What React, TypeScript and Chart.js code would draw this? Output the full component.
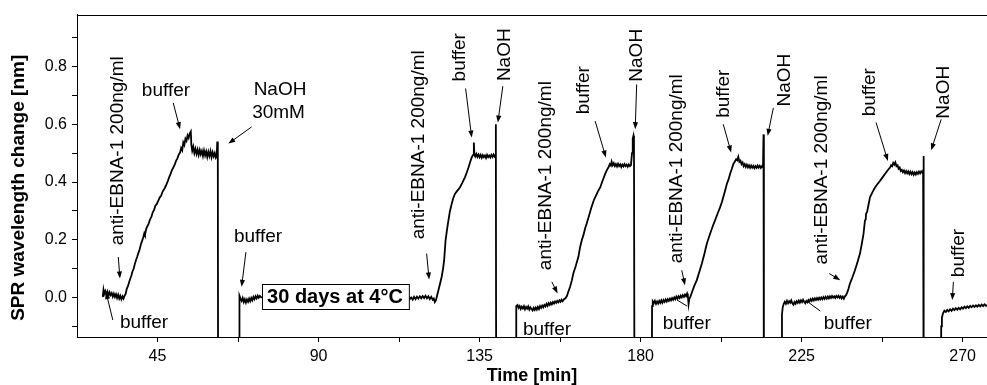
import React, { useEffect, useRef } from "react";
import { Chart, registerables } from "chart.js";

Chart.register(...registerables);

type Pt = [number, number];

// SPR sensorgram, [time (min), wavelength shift (nm)]; each cycle ends with the NaOH regeneration pulse
const cycle1: Pt[] = [
  [29.7, 0.002], [29.9, 0.026], [30.1, 0.012], [30.4, 0.022], [30.7, 0.009], [31.0, 0.02], [31.3, 0.006],
  [31.6, 0.018], [31.9, 0.008], [32.2, 0.015], [32.5, 0.003], [32.8, 0.013], [33.1, 0.002], [33.4, 0.011],
  [33.7, -0.002], [34.0, 0.009], [34.3, -0.004], [34.6, 0.006], [34.9, -0.006], [35.2, 0.004], [35.5, -0.004],
  [35.8, 0.006], [36.1, 0.012], [36.4, 0.03], [36.7, 0.038], [37.0, 0.05], [37.3, 0.062], [37.7, 0.076],
  [38.0, 0.09], [38.3, 0.098], [38.7, 0.118], [39.0, 0.13], [39.3, 0.14], [39.6, 0.152], [40.0, 0.166],
  [40.4, 0.186], [40.7, 0.196], [41.0, 0.208], [41.3, 0.222], [41.5, 0.216], [41.8, 0.236], [42.1, 0.245],
  [42.5, 0.255], [42.9, 0.27], [43.3, 0.28], [43.7, 0.296], [44.0, 0.302], [44.4, 0.318], [44.8, 0.324],
  [45.2, 0.335], [45.6, 0.346], [46.0, 0.352], [46.4, 0.366], [46.7, 0.372], [47.1, 0.381], [47.5, 0.392],
  [47.9, 0.404], [48.3, 0.418], [48.6, 0.426], [49.0, 0.44], [49.4, 0.45], [49.8, 0.46], [50.2, 0.474],
  [50.5, 0.48], [50.9, 0.494], [51.3, 0.502], [51.6, 0.518], [51.9, 0.51], [52.2, 0.537], [52.5, 0.528],
  [52.8, 0.55], [53.1, 0.543], [53.4, 0.562], [53.7, 0.553], [54.0, 0.568], [54.3, 0.575], [54.45, 0.53],
  [54.7, 0.508], [55.0, 0.522], [55.3, 0.5], [55.6, 0.515], [55.9, 0.497], [56.2, 0.512], [56.5, 0.494],
  [56.8, 0.511], [57.1, 0.496], [57.4, 0.508], [57.7, 0.49], [58.0, 0.509], [58.3, 0.492], [58.6, 0.506],
  [58.9, 0.487], [59.2, 0.505], [59.5, 0.49], [59.8, 0.507], [60.1, 0.486], [60.4, 0.503], [60.7, 0.489],
  [61.0, 0.5], [61.3, 0.484], [61.55, 0.49], [61.7, 0.54], [61.85, 0.5], [61.95, -0.5],
];

const cycle2: Pt[] = [
  [67.85, -0.5], [67.9, 0.006], [68.2, -0.004], [68.5, -0.012], [68.8, -0.002], [69.1, -0.016], [69.4, -0.006],
  [69.7, -0.018], [70.0, -0.007], [70.3, -0.015], [70.6, -0.004], [70.9, -0.013], [71.2, -0.002], [71.5, -0.01],
  [71.8, 0.002], [72.1, -0.006], [72.4, 0.004], [72.7, -0.003], [73.0, 0.006], [73.3, -0.001], [73.6, 0.005],
  [74.0, 0.0], [80, 0.0], [90, -0.002], [100, 0.0], [110, -0.002], [115.2, 0.002], [115.5, -0.006],
  [115.9, 0.0], [116.3, -0.008], [116.7, 0.002], [117.1, -0.006], [117.5, 0.003], [117.9, -0.004], [118.3, 0.004],
  [118.7, -0.003], [119.1, 0.005], [119.5, -0.002], [119.9, 0.006], [120.3, -0.003], [120.7, 0.004], [121.1, -0.006],
  [121.5, 0.002], [121.9, -0.008], [122.2, -0.004], [122.5, -0.016], [122.8, -0.01], [123.1, 0.005], [123.5, 0.025],
  [124.0, 0.05], [124.4, 0.071], [124.8, 0.1], [125.1, 0.129], [125.5, 0.198], [125.9, 0.235], [126.3, 0.267],
  [126.7, 0.298], [127.2, 0.324], [127.6, 0.342], [128.1, 0.359], [128.8, 0.37], [129.5, 0.381], [130.2, 0.398],
  [130.9, 0.416], [131.4, 0.432], [131.9, 0.45], [132.4, 0.47], [132.8, 0.485], [133.2, 0.494], [133.4, 0.537],
  [133.55, 0.494], [133.8, 0.488], [134.1, 0.497], [134.4, 0.487], [134.7, 0.495], [135.0, 0.486], [135.3, 0.494],
  [135.6, 0.484], [135.9, 0.493], [136.2, 0.486], [136.5, 0.492], [136.8, 0.483], [137.1, 0.494], [137.4, 0.486],
  [137.7, 0.492], [138.0, 0.485], [138.3, 0.494], [138.6, 0.487], [138.9, 0.495], [139.2, 0.488], [139.45, 0.494],
  [139.55, 0.6], [139.65, -0.5],
];

const cycle3: Pt[] = [
  [145.2, -0.5], [145.25, -0.03], [145.6, -0.026], [145.9, -0.036], [146.2, -0.03], [146.5, -0.04], [146.8, -0.032],
  [147.1, -0.038], [147.4, -0.03], [147.7, -0.041], [148.0, -0.033], [148.3, -0.039], [148.6, -0.031], [148.9, -0.042],
  [149.2, -0.034], [149.5, -0.04], [149.8, -0.045], [150.1, -0.036], [150.4, -0.043], [150.7, -0.035], [151.0, -0.042],
  [151.3, -0.033], [151.6, -0.04], [151.9, -0.03], [152.2, -0.036], [152.5, -0.028], [152.8, -0.034], [153.1, -0.026],
  [153.4, -0.031], [153.7, -0.022], [154.0, -0.029], [154.3, -0.02], [154.6, -0.026], [154.9, -0.018], [155.2, -0.024],
  [155.5, -0.016], [155.8, -0.021], [156.1, -0.014], [156.4, -0.019], [156.7, -0.012], [157.0, -0.017], [157.3, -0.01],
  [157.6, -0.015], [157.9, -0.008], [158.2, -0.013], [158.6, -0.006], [159.0, -0.003], [159.4, 0.005], [159.8, 0.02],
  [160.3, 0.037], [160.8, 0.06], [161.2, 0.083], [161.9, 0.11], [162.6, 0.14], [163.1, 0.175], [163.6, 0.2],
  [164.0, 0.215], [164.5, 0.24], [164.9, 0.255], [165.5, 0.28], [166.2, 0.31], [166.9, 0.336], [167.5, 0.352],
  [168.1, 0.368], [168.7, 0.381], [169.4, 0.405], [170.1, 0.428], [170.6, 0.442], [171.0, 0.45], [171.4, 0.462],
  [171.7, 0.457], [171.9, 0.47], [172.2, 0.458], [172.5, 0.465], [172.8, 0.455], [173.1, 0.462], [173.4, 0.454],
  [173.7, 0.463], [174.0, 0.455], [174.3, 0.461], [174.6, 0.452], [174.9, 0.46], [175.2, 0.454], [175.5, 0.462],
  [175.8, 0.455], [176.1, 0.46], [176.4, 0.453], [176.7, 0.461], [177.0, 0.455], [177.3, 0.458], [177.6, 0.5],
  [177.8, 0.55], [178.0, 0.56], [178.15, 0.54], [178.3, -0.5],
];

const cycle4: Pt[] = [
  [183.1, -0.5], [183.2, -0.03], [183.4, -0.014], [183.7, -0.02], [184.0, -0.012], [184.3, -0.022], [184.6, -0.014],
  [184.9, -0.021], [185.2, -0.012], [185.5, -0.019], [185.8, -0.01], [186.1, -0.018], [186.4, -0.009], [186.7, -0.015],
  [187.0, -0.007], [187.3, -0.014], [187.6, -0.006], [187.9, -0.012], [188.2, -0.004], [188.5, -0.01], [188.8, -0.002],
  [189.1, -0.008], [189.4, 0.0], [189.7, -0.006], [190.0, 0.003], [190.3, -0.004], [190.6, 0.004], [190.9, -0.002],
  [191.2, 0.006], [191.5, 0.0], [191.8, 0.008], [192.1, 0.002], [192.4, 0.01], [192.7, 0.004], [193.0, 0.014],
  [193.2, 0.006], [193.4, -0.023], [193.6, -0.005], [193.9, 0.002], [194.4, 0.02], [195.0, 0.04], [195.7, 0.06],
  [196.4, 0.088], [197.1, 0.117], [197.8, 0.15], [198.5, 0.186], [199.0, 0.205], [199.4, 0.22], [200.1, 0.245],
  [200.8, 0.267], [201.5, 0.29], [202.2, 0.312], [202.7, 0.33], [203.1, 0.347], [203.6, 0.37], [204.1, 0.393],
  [204.6, 0.41], [205.0, 0.428], [205.5, 0.446], [205.9, 0.462], [206.3, 0.47], [206.7, 0.479], [207.0, 0.475],
  [207.3, 0.487], [207.6, 0.47], [207.9, 0.474], [208.2, 0.462], [208.5, 0.468], [208.8, 0.455], [209.1, 0.462],
  [209.4, 0.452], [209.7, 0.46], [210.0, 0.451], [210.3, 0.458], [210.6, 0.449], [210.9, 0.457], [211.2, 0.45],
  [211.5, 0.456], [211.8, 0.448], [212.1, 0.455], [212.4, 0.449], [212.7, 0.457], [213.0, 0.45], [213.3, 0.456],
  [213.6, 0.449], [213.9, 0.455], [214.2, 0.451], [214.35, 0.565], [214.45, -0.5],
];

const cycle5: Pt[] = [
  [219.4, -0.5], [219.5, -0.06], [219.7, -0.035], [220.0, -0.022], [220.3, -0.015], [220.6, -0.022], [220.9, -0.012],
  [221.2, -0.02], [221.5, -0.013], [221.8, -0.018], [222.1, -0.01], [222.4, -0.02], [222.7, -0.025], [223.0, -0.016],
  [223.3, -0.022], [223.6, -0.013], [223.9, -0.019], [224.2, -0.011], [224.5, -0.018], [224.8, -0.01], [225.1, -0.016],
  [225.4, -0.008], [225.7, -0.015], [226.0, -0.02], [226.3, -0.012], [226.6, -0.017], [226.9, -0.009], [227.2, -0.014],
  [227.5, -0.006], [227.8, -0.012], [228.1, -0.004], [228.4, -0.01], [228.7, -0.003], [229.0, -0.009], [229.3, -0.002],
  [229.6, -0.008], [229.9, -0.001], [230.2, -0.007], [230.5, 0.0], [230.8, -0.006], [231.1, 0.001], [231.4, -0.005],
  [231.7, 0.002], [232.0, -0.004], [232.3, 0.003], [232.6, -0.003], [232.9, 0.004], [233.2, -0.002], [233.5, 0.005],
  [233.8, -0.001], [234.1, 0.004], [234.4, -0.002], [234.7, 0.005], [235.0, 0.0], [235.3, 0.006], [235.6, -0.001],
  [235.9, 0.004], [236.2, -0.003], [236.5, 0.003], [236.8, -0.004], [237.1, 0.004], [237.4, 0.008], [237.7, 0.016],
  [238.1, 0.03], [238.5, 0.048], [239.2, 0.07], [239.9, 0.094], [240.6, 0.122], [241.3, 0.152], [241.8, 0.185],
  [242.3, 0.221], [242.7, 0.267], [242.9, 0.27], [243.0, 0.29], [243.3, 0.296], [243.7, 0.322], [244.1, 0.347],
  [244.8, 0.365], [245.5, 0.381], [246.2, 0.393], [246.9, 0.404], [247.6, 0.416], [248.3, 0.428], [249.0, 0.44],
  [249.7, 0.45], [250.0, 0.458], [250.3, 0.455], [250.6, 0.466], [250.9, 0.46], [251.2, 0.468], [251.5, 0.455],
  [251.8, 0.458], [252.1, 0.446], [252.4, 0.45], [252.7, 0.438], [253.0, 0.442], [253.3, 0.434], [253.6, 0.44],
  [253.9, 0.431], [254.2, 0.438], [254.5, 0.43], [254.8, 0.437], [255.1, 0.428], [255.4, 0.436], [255.7, 0.427],
  [256.0, 0.434], [256.3, 0.425], [256.6, 0.433], [256.9, 0.426], [257.2, 0.434], [257.5, 0.428], [257.8, 0.436],
  [258.1, 0.43], [258.4, 0.437], [258.7, 0.432], [258.95, 0.44], [259.05, 0.49], [259.15, -0.5],
];

const cycle6: Pt[] = [
  [263.9, -0.5], [264.0, -0.1], [264.2, -0.07], [264.5, -0.055], [264.9, -0.046], [265.3, -0.05], [265.7, -0.043],
  [266.1, -0.048], [266.5, -0.041], [266.9, -0.046], [267.3, -0.039], [267.7, -0.044], [268.1, -0.037], [268.5, -0.042],
  [268.9, -0.036], [269.3, -0.041], [269.7, -0.034], [270.1, -0.039], [270.5, -0.032], [270.9, -0.037], [271.3, -0.031],
  [271.7, -0.036], [272.1, -0.029], [272.5, -0.034], [272.9, -0.028], [273.3, -0.033], [273.7, -0.027], [274.1, -0.032],
  [274.5, -0.026], [274.9, -0.031], [275.3, -0.025], [275.7, -0.03], [276.1, -0.024], [276.5, -0.029], [276.9, -0.026],
];

const cycles: Pt[][] = [cycle1, cycle2, cycle3, cycle4, cycle5, cycle6];

// Axis ticks
const xMajorTicks = [45, 90, 135, 180, 225, 270];
const xMinorTicks = [67.5, 112.5, 157.5, 202.5, 247.5];
const yMajorTicks = [0, 0.2, 0.4, 0.6, 0.8];
const yMinorTicks = [-0.1, 0.1, 0.3, 0.5, 0.7, 0.9];

// Injection labels, anchored at [time, shift]
type Note = { text: string; at: Pt; vertical?: boolean };
const notes: Note[] = [
  { text: "anti-EBNA-1 200ng/ml", at: [33.76, 0.508], vertical: true },
  { text: "buffer", at: [41.23, -0.089] },
  { text: "buffer", at: [47.37, 0.715] },
  { text: "NaOH", at: [79.24, 0.721] },
  { text: "30mM", at: [78.82, 0.64] },
  { text: "buffer", at: [73.09, 0.209] },
  { text: "anti-EBNA-1 200ng/ml", at: [117.89, 0.529], vertical: true },
  { text: "buffer", at: [129.35, 0.832], vertical: true },
  { text: "NaOH", at: [142.12, 0.841], vertical: true },
  { text: "buffer", at: [153.86, -0.111] },
  { text: "anti-EBNA-1 200ng/ml", at: [153.58, 0.422], vertical: true },
  { text: "buffer", at: [164.0, 0.718], vertical: true },
  { text: "NaOH", at: [178.93, 0.839], vertical: true },
  { text: "anti-EBNA-1 200ng/ml", at: [190.11, 0.446], vertical: true },
  { text: "buffer", at: [192.9, -0.09] },
  { text: "buffer", at: [203.13, 0.706], vertical: true },
  { text: "NaOH", at: [220.38, 0.753], vertical: true },
  { text: "anti-EBNA-1 200ng/ml", at: [230.63, 0.442], vertical: true },
  { text: "buffer", at: [237.9, -0.09] },
  { text: "buffer", at: [244.13, 0.711], vertical: true },
  { text: "NaOH", at: [264.62, 0.711], vertical: true },
  { text: "buffer", at: [268.81, 0.154], vertical: true },
];

type Pointer = { from: Pt; to: Pt; head?: boolean };
const pointers: Pointer[] = [
  { from: [34.04, 0.14], to: [34.5, 0.066] },
  { from: [32.5, -0.078], to: [30.6, 0.019] },
  { from: [49.4, 0.674], to: [51.3, 0.583] },
  { from: [71.3, 0.591], to: [64.8, 0.533] },
  { from: [69.7, 0.157], to: [68.5, 0.037] },
  { from: [120.2, 0.152], to: [120.9, 0.062] },
  { from: [131.1, 0.724], to: [132.8, 0.554] },
  { from: [141.5, 0.732], to: [140.1, 0.606] },
  { from: [155.2, 0.054], to: [156.8, 0.014] },
  { from: [167.3, 0.611], to: [170.3, 0.485] },
  { from: [178.9, 0.738], to: [178.5, 0.583] },
  { from: [191.5, 0.094], to: [192.4, 0.042] },
  { from: [193.0, -0.03], to: [190.2, -0.009], head: false },
  { from: [203.1, 0.6], to: [205.3, 0.502] },
  { from: [217.1, 0.657], to: [215.5, 0.56] },
  { from: [232.7, 0.083], to: [235.8, 0.06] },
  { from: [230.2, -0.047], to: [226.8, -0.016], head: false },
  { from: [245.8, 0.606], to: [249.1, 0.473] },
  { from: [264.0, 0.617], to: [261.2, 0.51] },
  { from: [267.4, 0.054], to: [267.1, -0.009] },
];

const storageNote = { text: "30 days at 4°C", at: [94.6, 0.005] as Pt };

const FONT = '"Liberation Sans", Arial, Helvetica, sans-serif';

const notesPlugin = {
  id: "sprNotes",
  afterDatasetsDraw(chart: any) {
    const { ctx, chartArea, scales } = chart;
    const xs = scales.x;
    const ys = scales.y;
    const px = (p: Pt) => [xs.getPixelForValue(p[0]), ys.getPixelForValue(p[1])];
    ctx.save();
    ctx.strokeStyle = "#000";
    ctx.fillStyle = "#000";

    // upper frame line
    ctx.lineWidth = 1;
    ctx.beginPath();
    ctx.moveTo(chartArea.left, Math.round(chartArea.top) + 0.5);
    ctx.lineTo(chartArea.right, Math.round(chartArea.top) + 0.5);
    ctx.stroke();

    // pointer arrows
    for (const a of pointers) {
      const [x1, y1] = px(a.from);
      const [x2, y2] = px(a.to);
      const ang = Math.atan2(y2 - y1, x2 - x1);
      const L = 7;
      const W = 2.6;
      const hasHead = a.head !== false;
      const ex = hasHead ? x2 - (L - 1) * Math.cos(ang) : x2;
      const ey = hasHead ? y2 - (L - 1) * Math.sin(ang) : y2;
      ctx.lineWidth = 1;
      ctx.beginPath();
      ctx.moveTo(x1, y1);
      ctx.lineTo(ex, ey);
      ctx.stroke();
      if (hasHead) {
        const bx = x2 - L * Math.cos(ang);
        const by = y2 - L * Math.sin(ang);
        ctx.beginPath();
        ctx.moveTo(x2, y2);
        ctx.lineTo(bx + W * Math.sin(ang), by - W * Math.cos(ang));
        ctx.lineTo(bx - W * Math.sin(ang), by + W * Math.cos(ang));
        ctx.closePath();
        ctx.fill();
      }
    }

    // text labels
    ctx.font = `19px ${FONT}`;
    ctx.textAlign = "center";
    ctx.textBaseline = "middle";
    for (const n of notes) {
      const [x, y] = px(n.at);
      if (n.vertical) {
        ctx.save();
        ctx.translate(x, y);
        ctx.rotate(-Math.PI / 2);
        ctx.fillText(n.text, 0, 0);
        ctx.restore();
      } else {
        ctx.fillText(n.text, x, y);
      }
    }

    // boxed storage note
    ctx.font = `bold 20px ${FONT}`;
    const [bx, by] = px(storageNote.at);
    const tw = ctx.measureText(storageNote.text).width;
    const bw = tw + 11;
    const bh = 25;
    const left = Math.round(bx - bw / 2) + 0.5;
    const top = Math.round(by - bh / 2) + 0.5;
    ctx.fillStyle = "#fff";
    ctx.fillRect(left, top, bw, bh);
    ctx.lineWidth = 1;
    ctx.strokeRect(left, top, bw, bh);
    ctx.fillStyle = "#000";
    ctx.fillText(storageNote.text, bx, by + 1);

    // y-axis title
    ctx.font = `bold 19px ${FONT}`;
    ctx.save();
    ctx.translate(19, (chartArea.top + chartArea.bottom) / 2 + 12);
    ctx.rotate(-Math.PI / 2);
    ctx.fillText("SPR wavelength change [nm]", 0, 0);
    ctx.restore();

    ctx.restore();
  },
};

export default function App() {
  const canvasRef = useRef<HTMLCanvasElement>(null);

  useEffect(() => {
    document.body.style.margin = "0";
    const canvas = canvasRef.current;
    if (!canvas) return;

    const datasets = cycles.map((c, i) => ({
      label: `cycle ${i + 1}`,
      data: c.map(([t, v]) => ({ x: t, y: v })),
      borderColor: "#000",
      borderWidth: 1.8,
      pointRadius: 0,
      tension: 0,
      fill: false,
    }));

    const isMajor = (list: number[], v: number) => list.some((m) => Math.abs(m - v) < 1e-9);

    const chart = new Chart(canvas, {
      type: "line",
      data: { datasets },
      plugins: [notesPlugin],
      options: {
        animation: false,
        responsive: false,
        devicePixelRatio: 1,
        layout: { padding: { top: 13, right: 0, bottom: 0, left: 0 } },
        plugins: { legend: { display: false }, tooltip: { enabled: false } },
        scales: {
          x: {
            type: "linear",
            min: 22.5,
            max: 276.8,
            afterBuildTicks: (s: any) => {
              s.ticks = [...xMajorTicks, ...xMinorTicks].sort((a, b) => a - b).map((v) => ({ value: v }));
            },
            afterFit: (s: any) => {
              s.height = 48;
            },
            ticks: {
              autoSkip: false,
              maxRotation: 0,
              color: "#000",
              padding: 5,
              font: { family: FONT, size: 16 },
              callback: (v: any) => (isMajor(xMajorTicks, Number(v)) ? String(v) : ""),
            },
            grid: { display: true, drawOnChartArea: false, drawTicks: true, tickLength: 5, color: "#000", lineWidth: 1 },
            border: { display: true, color: "#000", width: 1 },
            title: {
              display: true,
              text: "Time [min]",
              color: "#000",
              font: { family: FONT, size: 18, weight: "bold", lineHeight: 1 },
              padding: { top: 0, bottom: 0 },
            },
          },
          y: {
            type: "linear",
            min: -0.137,
            max: 0.98,
            afterBuildTicks: (s: any) => {
              s.ticks = [...yMajorTicks, ...yMinorTicks].sort((a, b) => a - b).map((v) => ({ value: v }));
            },
            afterFit: (s: any) => {
              s.width = 77;
            },
            ticks: {
              autoSkip: false,
              color: "#000",
              padding: 5,
              font: { family: FONT, size: 16 },
              callback: (v: any) => (isMajor(yMajorTicks, Number(v)) ? Number(v).toFixed(1) : ""),
            },
            grid: { display: true, drawOnChartArea: false, drawTicks: true, tickLength: 5, color: "#000", lineWidth: 1 },
            border: { display: true, color: "#000", width: 1 },
          },
        },
      },
    } as any);

    return () => chart.destroy();
  }, []);

  return (
    <div style={{ width: 987, height: 385 }}>
      <canvas ref={canvasRef} width={987} height={385} style={{ display: "block" }} />
    </div>
  );
}
